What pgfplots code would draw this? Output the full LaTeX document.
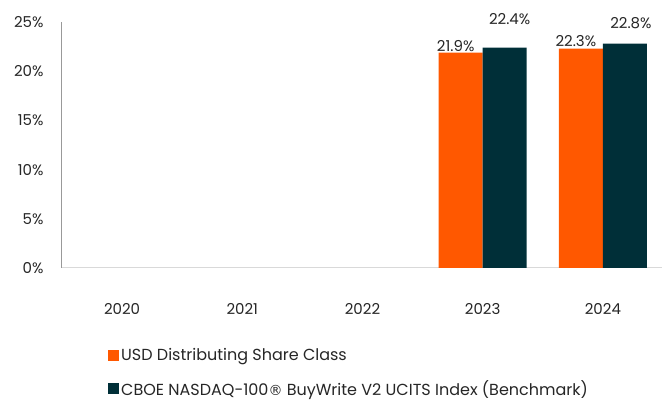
\documentclass[border=0pt]{standalone}
\usepackage{pgfplots}
\pgfplotsset{compat=1.18}
\usepackage{fontspec}
\setmainfont{Poppins}
\newfontfamily\dvfont{DejaVu Sans}
\definecolor{orng}{RGB}{255,88,0}
\definecolor{dteal}{RGB}{0,47,56}
\definecolor{txt}{RGB}{38,38,38}
\begin{document}
\begin{tikzpicture}[x=1pt,y=1pt]
\path[use as bounding box] (-62,-133) rectangle (600,268);
\begin{axis}[
 at={(0,0)}, anchor=south west,
 scale only axis, width=601pt, height=246pt,
 xmin=-0.5, xmax=4.5, ymin=0, ymax=25,
 clip=false,
 ybar=0pt, bar width=44pt,
 axis x line*=bottom, axis y line*=left,
 x axis line style={draw=black!15, line width=1pt, -},
 y axis line style={draw=black!40, line width=1pt, -},
 xtick={0,...,4}, xticklabels={2020,2021,2022,2023,2024},
 ytick={0,5,...,25},
 major tick length=0pt,
 yticklabel={\pgfmathprintnumber{\tick}\%},
 /pgf/number format/assume math mode=true,
 tick label style={font=\fontsize{15}{18}\selectfont, text=txt},
 xticklabel style={yshift=-32pt},
 yticklabel style={xshift=-15pt},
 legend style={at={(0.0715,-0.31)}, anchor=north west, draw=none, fill=none,
   font=\fontsize{16}{19}\selectfont, text=txt, row sep=14pt},
 legend cell align=left,
 legend image code/.code={\fill[#1] (0pt,-5.5pt) rectangle (11pt,5.5pt);},
 nodes near coords={\pgfmathprintnumber[fixed,fixed zerofill,precision=1]{\pgfplotspointmeta}\%},
 nodes near coords style={font=\fontsize{15}{18}\selectfont, text=txt, anchor=south},
 visualization depends on={value \thisrow{dy}\as\dy},
 visualization depends on={value \thisrow{dx}\as\dx},
 every node near coord/.append style={yshift=\dy pt, xshift=\dx pt},
]
\addplot[fill=orng, draw=none] table[x=x,y=y] {
x y dy dx
3 21.9 -3 -5
4 22.3 -1.5 -5
};
\addlegendentry{USD Distributing Share Class}
\addplot[fill=dteal, draw=none] table[x=x,y=y] {
x y dy dx
3 22.4 19 5
4 22.8 11 6
};
\addlegendentry{CBOE NASDAQ-100{\dvfont\fontsize{14}{14}\selectfont ®} BuyWrite V2 UCITS Index (Benchmark)}
\end{axis}
\end{tikzpicture}
\end{document}
